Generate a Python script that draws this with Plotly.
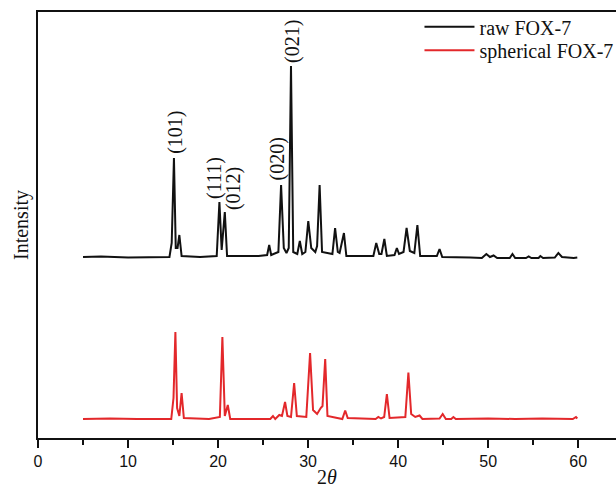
import plotly.graph_objects as go

# ---- data (2theta in degrees, intensity in a.u.) ----
raw_2theta = [5.0, 7.0, 10.0, 13.0, 14.6, 14.85, 15.1, 15.3, 15.5, 15.7, 15.95, 18.0,
              19.85, 20.15, 20.4, 20.75, 21.0, 24.5, 25.45, 25.68, 25.9, 26.7, 27.0, 27.3,
              27.6, 27.85, 28.1, 28.35, 28.8, 29.08, 29.35, 29.7, 30.02, 30.35, 30.8, 31.0,
              31.28, 31.55, 32.7, 33.0, 33.3, 33.5, 33.98, 34.25, 37.25, 37.57, 37.9, 38.15,
              38.47, 38.75, 39.6, 39.86, 40.1, 40.6, 40.94, 41.3, 41.8, 42.14, 42.45, 44.3,
              44.6, 44.9, 46.0, 48.0, 49.3, 49.8, 50.2, 50.6, 51.0, 52.4, 52.7, 53.0,
              54.2, 54.5, 54.8, 55.6, 55.8, 56.1, 57.4, 57.8, 58.2, 59.5, 59.9]
raw_intensity = [181, 181.5, 180.5, 181, 181, 195, 280, 190, 190, 203, 182, 181,
                 182, 236, 188, 226, 182, 182, 183, 193, 183, 186, 253, 190,
                 185, 190, 372, 186, 184, 197, 184, 186, 217, 190, 186, 192,
                 253, 186, 184, 210, 186, 185, 205, 182, 182, 195, 184, 184,
                 199, 182, 183, 190, 184, 186, 210, 187, 185, 213, 182, 182,
                 189, 181, 181, 180.5, 180, 184, 181, 182.5, 180, 180, 184, 180,
                 180, 181.5, 180, 180, 182, 180, 180.5, 185, 181, 180, 180.5]

sph_2theta = [5.0, 8.0, 11.0, 14.8, 15.05, 15.26, 15.45, 15.7, 15.95, 16.2, 19.0,
              20.2, 20.48, 20.75, 21.08, 21.35, 25.8, 26.1, 26.35, 26.6, 26.8, 27.1,
              27.44, 27.7, 28.1, 28.45, 28.75, 29.8, 30.22, 30.55, 31.0, 31.4, 31.6,
              31.9, 32.15, 33.8, 34.12, 34.4, 37.5, 37.8, 38.1, 38.45, 38.75, 39.05,
              40.8, 41.14, 41.45, 41.9, 42.38, 42.7, 44.6, 44.95, 45.3, 45.9, 46.14,
              46.4, 50.0, 53.0, 56.0, 59.4, 59.75, 59.9]
sph_intensity = [19, 19.5, 19, 19, 40, 106, 30, 22, 45, 20, 19,
                 21, 101, 22, 33, 19, 19, 22, 19, 21, 23, 22,
                 36, 22, 21, 55, 22, 21, 85, 28, 24, 30, 32,
                 79, 22, 19, 27.5, 20, 19, 21, 19.5, 21, 44, 20,
                 21, 65.5, 24, 21, 22.5, 19, 19.5, 24, 19, 19, 21,
                 19, 19.5, 19, 19.5, 19, 21, 19.5]

series_names = ["raw FOX-7", "spherical FOX-7"]
series_colors = ["#111111", "#e3282b"]

hkl_labels = ["(101)", "(111)", "(012)", "(020)", "(021)"]
hkl_x = [15.2, 19.54, 21.67, 26.6, 28.2]
hkl_y = [306, 260, 249, 279, 397]

x_ticks = [0, 10, 20, 30, 40, 50, 60]

SERIF = "Liberation Serif, Times New Roman, serif"
SANS = "Liberation Sans, Arial, sans-serif"

fig = go.Figure()
fig.add_trace(go.Scatter(x=raw_2theta, y=raw_intensity, mode="lines", name=series_names[0],
                         line=dict(color=series_colors[0], width=2), legend="legend"))
fig.add_trace(go.Scatter(x=sph_2theta, y=sph_intensity, mode="lines", name=series_names[1],
                         line=dict(color=series_colors[1], width=2), legend="legend2"))

for lab, xx, yy in zip(hkl_labels, hkl_x, hkl_y):
    fig.add_annotation(x=xx, y=yy, text=lab, textangle=-90, showarrow=False,
                       xanchor="center", yanchor="middle",
                       font=dict(family=SERIF, size=20, color="#111111"))

legend_common = dict(font=dict(family=SERIF, size=20, color="#111111"),
                     bgcolor="rgba(0,0,0,0)", borderwidth=0, itemwidth=50,
                     xanchor="left", yanchor="middle", xref="paper", yref="paper")

fig.update_layout(
    width=616, height=488,
    margin=dict(l=38, r=0, t=12, b=50, autoexpand=False),
    paper_bgcolor="white", plot_bgcolor="white",
    showlegend=True,
    legend=dict(x=0.66, y=(438 - 26.8) / 426, **legend_common),
    legend2=dict(x=0.66, y=(438 - 50.2) / 426, **legend_common),
    xaxis=dict(range=[0, 64.2], tickvals=x_ticks, ticks="outside", ticklen=8, tickwidth=1.5,
               tickcolor="#111111", showline=True, linecolor="#111111", linewidth=2,
               mirror=True, showgrid=False, zeroline=False,
               minor=dict(dtick=5, tick0=0, ticks="outside", ticklen=5, tickwidth=1.5,
                          tickcolor="#111111", showgrid=False),
               tickfont=dict(family=SANS, size=16, color="#111111"),
               title=dict(text="2<i>θ</i>", font=dict(family=SERIF, size=20, color="#111111"),
                          standoff=4)),
    yaxis=dict(range=[0, 426], showticklabels=False, ticks="", showline=True,
               linecolor="#111111", linewidth=2, mirror=False, showgrid=False,
               zeroline=False,
               title=dict(text="Intensity", font=dict(family=SERIF, size=20, color="#111111"),
                          standoff=2)),
)

fig.write_html("out.html", config={"displayModeBar": False},
               post_script="document.body.style.margin='0';document.body.style.padding='0';")
